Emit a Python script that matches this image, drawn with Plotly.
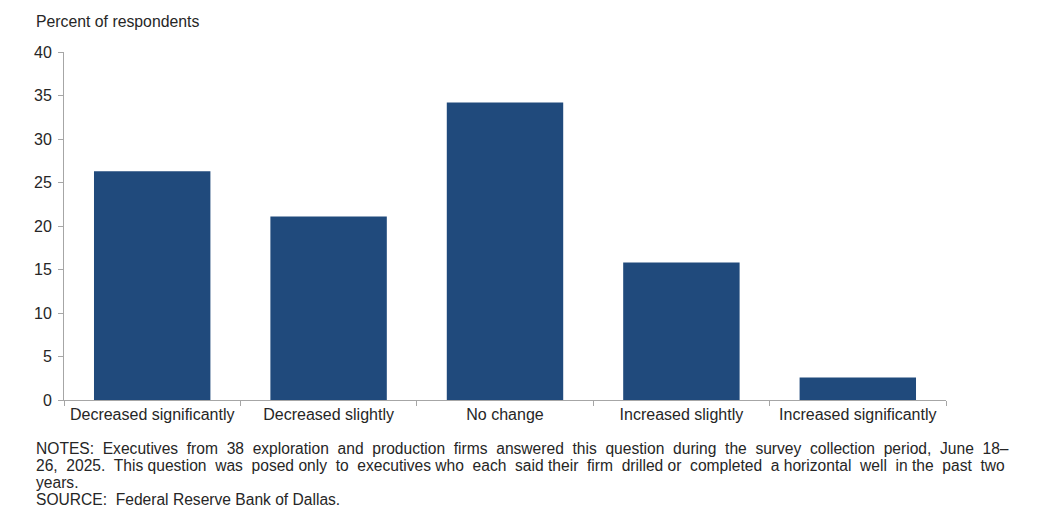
import plotly.graph_objects as go

categories = ["Decreased significantly", "Decreased slightly", "No change",
              "Increased slightly", "Increased significantly"]
values = [26.3, 21.1, 34.2, 15.8, 2.6]
y_ticks = [0, 5, 10, 15, 20, 25, 30, 35, 40]

OFF = 8  # page body margin
W, H = 1047, 521
L, T = 64 - OFF, 52 - OFF
R = W - (946 - OFF)
B = H - (400 - OFF)
pw, ph = W - L - R, H - T - B

def px(x):
    return (x - OFF - L) / pw

def py(y):
    return (H - B - (y - OFF)) / ph

fig = go.Figure(go.Bar(x=categories, y=values, marker_color="#204A7C",
                       marker_line_width=0, width=0.66))

font = dict(family="Liberation Sans, Arial, sans-serif", color="#262626")
fig.update_layout(
    width=W, height=H, margin=dict(l=L, r=R, t=T, b=B),
    paper_bgcolor="white", plot_bgcolor="white",
    font=dict(size=16, **font), showlegend=False,
    xaxis=dict(showline=True, linecolor="#A6A6A6", linewidth=1,
               ticks="outside", tickson="boundaries", ticklen=5,
               tickcolor="#A6A6A6", showgrid=False, tickangle=0,
               tickfont=dict(size=16)),
    yaxis=dict(range=[0, 40], tickvals=y_ticks, showline=True,
               linecolor="#A6A6A6", linewidth=1, ticks="outside", ticklen=5,
               tickcolor="#A6A6A6", showgrid=False, zeroline=False,
               ticklabelstandoff=3, tickfont=dict(size=16)),
)

fig.add_annotation(text="Percent of respondents", xref="paper", yref="paper",
                   x=px(34), y=py(22), xanchor="left", yanchor="middle",
                   showarrow=False, font=dict(size=15.8, **font))

notes = ["NOTES:  Executives  from  38  exploration  and  production  firms  answered  this  question  during  the  survey  collection  period,  June  18–",
         "26,  2025.  This question  was  posed only  to  executives who  each  said their  firm  drilled or  completed  a horizontal  well  in the  past  two",
         "years.",
         "SOURCE:  Federal Reserve Bank of Dallas."]
for i, line in enumerate(notes):
    fig.add_annotation(text=line, xref="paper", yref="paper",
                       x=px(34), y=py(448 + i * 17.3), xanchor="left", yanchor="middle",
                       showarrow=False, font=dict(size=15.6, **font))

fig.write_html("out.html")
